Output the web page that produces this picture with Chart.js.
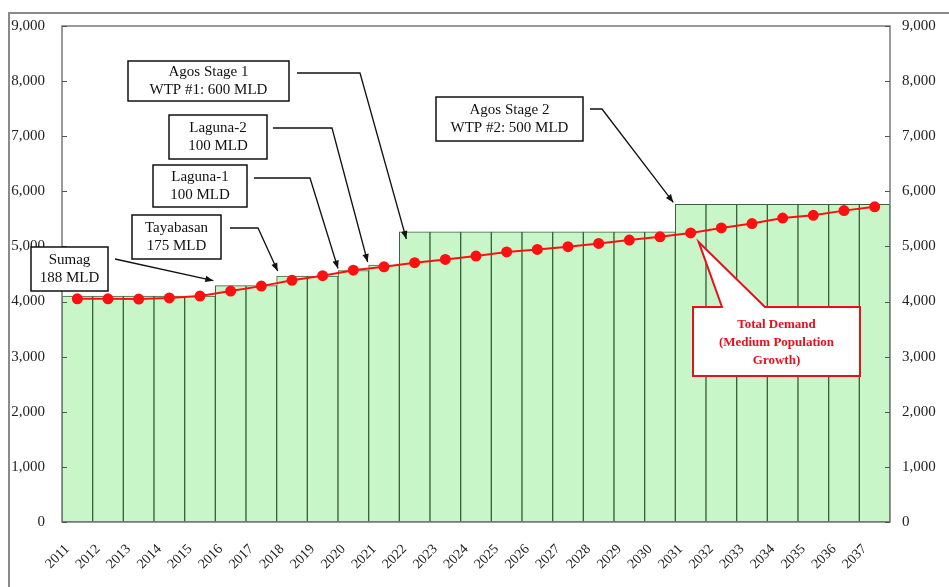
<!DOCTYPE html>
<html>
<head>
<meta charset="utf-8">
<script src="https://cdn.jsdelivr.net/npm/chart.js@4/dist/chart.umd.min.js"></script>
<style>
  html, body { margin: 0; padding: 0; background: #fff; }
  canvas { display: block; }
</style>
</head>
<body>
<canvas id="c" width="949" height="587"></canvas>
<script>
// Years on the horizontal axis
const years = ['2011','2012','2013','2014','2015','2016','2017','2018','2019','2020',
  '2021','2022','2023','2024','2025','2026','2027','2028','2029','2030',
  '2031','2032','2033','2034','2035','2036','2037'];

// Supply capacity (MLD) by year, stepping up as each source comes online
const capacity = [4100,4100,4100,4100,4100,4288,4288,4463,4463,4563,
  4663,5263,5263,5263,5263,5263,5263,5263,5263,5263,
  5763,5763,5763,5763,5763,5763,5763];

// Total demand (MLD), medium population growth
const demand = [4050,4050,4045,4065,4100,4190,4280,4385,4470,4570,
  4630,4705,4765,4825,4900,4945,4995,5055,5115,5175,
  5245,5335,5415,5515,5565,5650,5720];

// Axis tick values
const yTicks = [0,1000,2000,3000,4000,5000,6000,7000,8000,9000];

// Source call-outs: text, box, leader path, and the year whose bar they point to
const sourceNotes = [
  { lines: ['Agos Stage 1', 'WTP #1: 600 MLD'], box: [128, 61, 161, 40], path: [[297, 73], [360, 73]], year: '2022', dx: 7, dy: 7 },
  { lines: ['Laguna-2', '100 MLD'], box: [169, 115, 98, 44], path: [[273, 128], [332, 128]], year: '2021', dx: -1, dy: -3 },
  { lines: ['Laguna-1', '100 MLD'], box: [153, 165, 94, 42], path: [[254, 178], [310, 178]], year: '2020', dx: 0, dy: -2 },
  { lines: ['Tayabasan', '175 MLD'], box: [132, 215, 89, 44], path: [[230, 228], [258, 228]], year: '2018', dx: 1, dy: -5 },
  { lines: ['Sumag', '188 MLD'], box: [31, 247, 77, 44], path: [[115, 259]], year: '2016', dx: -2, dy: -5 },
  { lines: ['Agos Stage 2', 'WTP #2: 500 MLD'], box: [436, 97, 147, 44], path: [[590, 109], [602, 109]], year: '2031', dx: -2, dy: -2 }
];

// Demand call-out (red)
const demandNote = { lines: ['Total Demand', '(Medium Population', 'Growth)'], box: [693, 307, 167, 69], year: '2031', base: [722, 765] };

const SERIF = '"Liberation Serif", "Times New Roman", serif';

function arrowHead(ctx, x0, y0, x1, y1, len, half) {
  const a = Math.atan2(y1 - y0, x1 - x0);
  ctx.beginPath();
  ctx.moveTo(x1, y1);
  ctx.lineTo(x1 - len * Math.cos(a) + half * Math.sin(a), y1 - len * Math.sin(a) - half * Math.cos(a));
  ctx.lineTo(x1 - len * Math.cos(a) - half * Math.sin(a), y1 - len * Math.sin(a) + half * Math.cos(a));
  ctx.closePath();
  ctx.fill();
}

const framePlugin = {
  id: 'frame',
  beforeDraw(chart) {
    const ctx = chart.ctx;
    ctx.save();
    ctx.fillStyle = '#fff';
    ctx.fillRect(0, 0, chart.width, chart.height);
    ctx.strokeStyle = '#8a8a8a';
    ctx.lineWidth = 2;
    ctx.strokeRect(9, 13, chart.width + 10, chart.height + 10);
    ctx.restore();
  },
  afterDatasetsDraw(chart) {
    const ctx = chart.ctx;
    const a = chart.chartArea;
    const y = chart.scales.y;
    ctx.save();
    // plot area border
    ctx.strokeStyle = '#7a7a7a';
    ctx.lineWidth = 1.5;
    ctx.strokeRect(a.left, a.top, a.right - a.left, a.bottom - a.top);
    // inner tick marks on both value axes
    ctx.lineWidth = 1;
    ctx.strokeStyle = '#555';
    yTicks.forEach(v => {
      const py = Math.round(y.getPixelForValue(v)) + 0.5;
      ctx.beginPath();
      ctx.moveTo(a.left, py); ctx.lineTo(a.left + 5, py);
      ctx.moveTo(a.right - 5, py); ctx.lineTo(a.right, py);
      ctx.stroke();
    });
    ctx.restore();
  },
  afterDraw(chart) {
    const ctx = chart.ctx;
    const xs = chart.scales.x, ys = chart.scales.y;
    const bw = xs.getPixelForValue(1) - xs.getPixelForValue(0);
    ctx.save();

    // black source call-outs with leader arrows
    sourceNotes.forEach(n => {
      const i = years.indexOf(n.year);
      const tip = [xs.getPixelForValue(i) - bw / 2 + n.dx, ys.getPixelForValue(capacity[i]) + n.dy];
      const pts = n.path.concat([tip]);
      ctx.strokeStyle = '#111';
      ctx.fillStyle = '#111';
      ctx.lineWidth = 1.3;
      ctx.beginPath();
      ctx.moveTo(pts[0][0], pts[0][1]);
      for (let k = 1; k < pts.length; k++) ctx.lineTo(pts[k][0], pts[k][1]);
      ctx.stroke();
      const p = pts[pts.length - 2];
      arrowHead(ctx, p[0], p[1], tip[0], tip[1], 8, 3.2);

      const [bx, by, bwid, bh] = n.box;
      ctx.fillStyle = '#fff';
      ctx.fillRect(bx, by, bwid, bh);
      ctx.strokeStyle = '#111';
      ctx.lineWidth = 1.5;
      ctx.strokeRect(bx, by, bwid, bh);
      ctx.fillStyle = '#111';
      ctx.font = '15px ' + SERIF;
      ctx.textAlign = 'center';
      ctx.textBaseline = 'middle';
      const cy = by + bh / 2;
      ctx.fillText(n.lines[0], bx + bwid / 2, cy - 9);
      ctx.fillText(n.lines[1], bx + bwid / 2, cy + 9);
    });

    // red demand call-out
    const d = demandNote;
    const j = years.indexOf(d.year);
    const tx = xs.getPixelForValue(j) + 8, ty = ys.getPixelForValue(demand[j]) + 9;
    const [rx, ry, rw, rh] = d.box;
    ctx.fillStyle = '#fff';
    ctx.fillRect(rx, ry, rw, rh);
    ctx.beginPath();
    ctx.moveTo(d.base[0], ry + 1);
    ctx.lineTo(tx, ty);
    ctx.lineTo(d.base[1], ry + 1);
    ctx.closePath();
    ctx.fill();
    ctx.strokeStyle = '#e8101a';
    ctx.lineWidth = 2;
    ctx.beginPath();
    ctx.moveTo(d.base[0], ry);
    ctx.lineTo(tx, ty);
    ctx.lineTo(d.base[1], ry);
    ctx.lineTo(rx + rw, ry);
    ctx.lineTo(rx + rw, ry + rh);
    ctx.lineTo(rx, ry + rh);
    ctx.lineTo(rx, ry);
    ctx.closePath();
    ctx.stroke();
    ctx.fillStyle = '#e8101a';
    ctx.font = 'bold 13px ' + SERIF;
    ctx.textAlign = 'center';
    ctx.textBaseline = 'middle';
    d.lines.forEach((t, k) => ctx.fillText(t, rx + rw / 2, ry + 18 + k * 18));

    ctx.restore();
  }
};

const tickFont = { family: SERIF, size: 15 };

new Chart(document.getElementById('c'), {
  type: 'bar',
  data: {
    labels: years,
    datasets: [
      {
        type: 'line',
        label: 'Total Demand',
        data: demand,
        borderColor: '#ff1010',
        backgroundColor: '#ff1010',
        borderWidth: 2,
        pointRadius: 4.5,
        pointBackgroundColor: '#ff1010',
        pointBorderColor: '#ff1010',
        tension: 0,
        order: 0
      },
      {
        type: 'bar',
        label: 'Capacity',
        data: capacity,
        backgroundColor: '#c9f6c9',
        borderColor: '#3d603d',
        borderWidth: 1,
        borderSkipped: false,
        barPercentage: 1,
        categoryPercentage: 1,
        order: 1
      }
    ]
  },
  options: {
    responsive: false,
    animation: false,
    events: [],
    layout: { padding: { left: 8, top: 25, right: 0, bottom: 0 } },
    plugins: { legend: { display: false }, tooltip: { enabled: false } },
    scales: {
      x: {
        grid: { display: false, drawTicks: false },
        border: { display: false },
        ticks: {
          font: { family: SERIF, size: 14 },
          color: '#222',
          autoSkip: false,
          maxRotation: 45,
          minRotation: 45,
          labelOffset: -10,
          padding: 19
        },
        afterFit(s) { s.height = 65; }
      },
      y: {
        position: 'left',
        min: 0, max: 9000,
        grid: { display: false, drawTicks: false },
        border: { display: false },
        ticks: {
          stepSize: 1000,
          font: tickFont,
          color: '#222',
          padding: 17,
          callback: v => v.toLocaleString('en-US')
        },
        afterFit(s) { s.width = 54; }
      },
      y2: {
        position: 'right',
        min: 0, max: 9000,
        grid: { display: false, drawTicks: false },
        border: { display: false },
        ticks: {
          stepSize: 1000,
          font: tickFont,
          color: '#222',
          padding: 12,
          callback: v => v.toLocaleString('en-US')
        },
        afterFit(s) { s.width = 59; }
      }
    }
  },
  plugins: [framePlugin]
});
</script>
</body>
</html>
